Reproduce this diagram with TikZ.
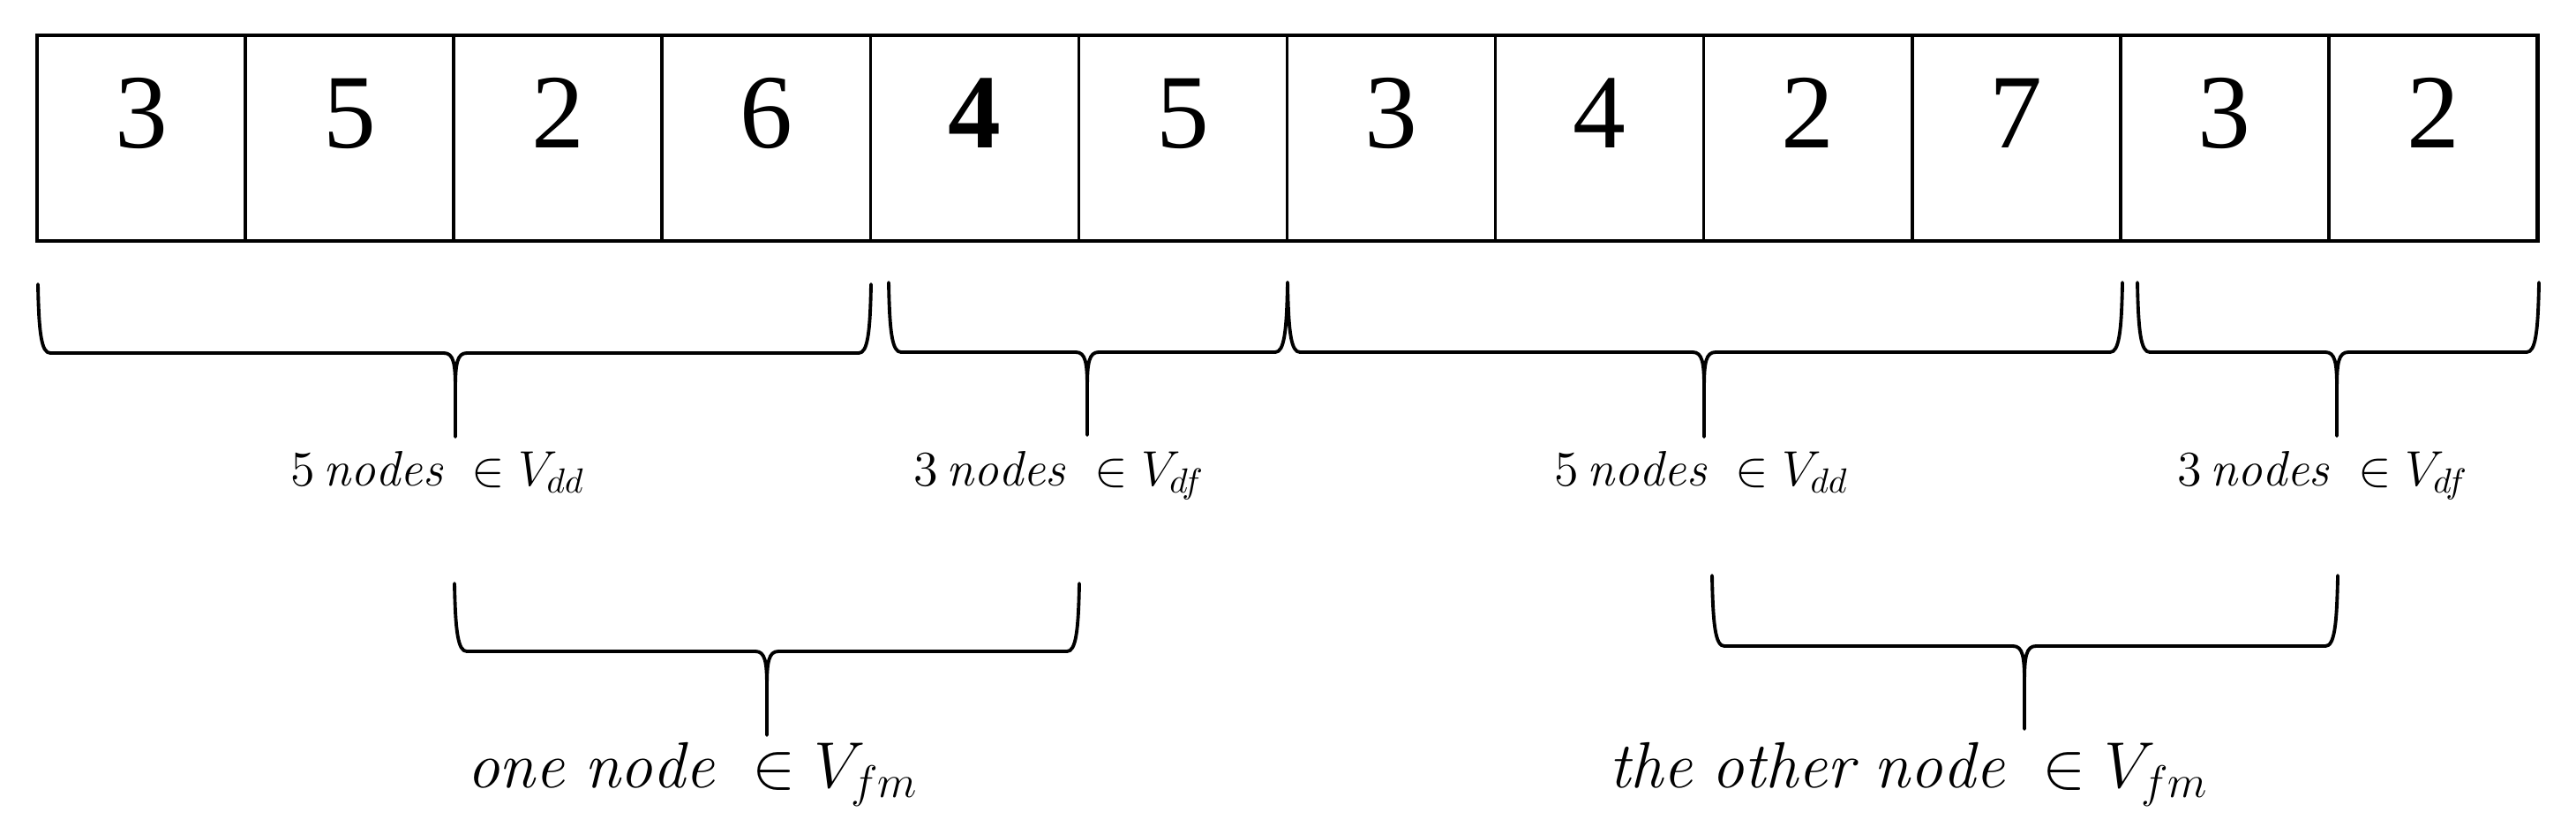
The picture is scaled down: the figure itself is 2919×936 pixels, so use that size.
\RequirePackage{fix-cm}
\documentclass[tikz,border=0pt]{standalone}
\usepackage{fontspec}
\newfontfamily\numfont{Liberation Serif}
\tikzset{
  cellline/.style={line width=1pt},
  outerline/.style={line width=1.4pt},
  bracestyle/.style={line width=1.1pt, line cap=round, line join=round},
  digit/.style={anchor=base, inner sep=0pt, font=\numfont\fontsize{34}{40}\selectfont},
  labone/.style={anchor=base, inner sep=0pt, font=\fontsize{16}{19}\selectfont},
  labtwo/.style={anchor=base, inner sep=0pt, font=\fontsize{21}{25}\selectfont},
}
% xl, xr, xm, top, bar, bottom
\newcommand\mybrace[6]{%
  \draw[bracestyle] (#1,#4) .. controls (#1+1,#5-22) and (#1+4,#5) .. (#1+14,#5) -- (#3-13,#5)
     .. controls (#3-2,#5) and (#3,#5+12) .. (#3,#5+40) -- (#3,#6)
     (#3,#5+40) .. controls (#3,#5+12) and (#3+2,#5) .. (#3+13,#5) -- (#2-14,#5)
     .. controls (#2-4,#5) and (#2-1,#5-22) .. (#2,#4);
}
\begin{document}
\begin{tikzpicture}[x=0.01cm,y=-0.01cm]
\useasboundingbox (0,0) rectangle (2919,936);
% grid
\foreach \i in {1,...,11} \draw[cellline] ({42+\i*236.08},40) -- ({42+\i*236.08},273);
\draw[outerline] (42,40) rectangle (2875,273);
% digits
\node[digit] (d0)  at ({42+0.5*236.08},167) {3};
\node[digit] (d1)  at ({42+1.5*236.08},167) {5};
\node[digit] (d2)  at ({42+2.5*236.08},167) {2};
\node[digit] (d3)  at ({42+3.5*236.08},167) {6};
\node[digit] (d4)  at ({42+4.5*236.08},167) {\bfseries 4};
\node[digit] (d5)  at ({42+5.5*236.08},167) {5};
\node[digit] (d6)  at ({42+6.5*236.08},167) {3};
\node[digit] (d7)  at ({42+7.5*236.08},167) {4};
\node[digit] (d8)  at ({42+8.5*236.08},167) {2};
\node[digit] (d9)  at ({42+9.5*236.08},167) {7};
\node[digit] (d10) at ({42+10.5*236.08},167) {3};
\node[digit] (d11) at ({42+11.5*236.08},167) {2};
% first row of braces
\mybrace{43}{987}{516}{322}{400}{495}
\mybrace{1007}{1459}{1232}{320}{399}{493}
\mybrace{1459}{2405}{1931}{320}{399}{495}
\mybrace{2422}{2877}{2648}{320}{399}{494}
% second row of braces
\mybrace{515}{1223}{869}{661}{738}{833}
\mybrace{1940}{2649}{2294}{652}{732}{826}
% labels
\node[labone] (l1) at (496,550)  {$5\,\mathit{nodes}\ \in V_{dd}$};
\node[labone] (l2) at (1200,550) {$3\,\mathit{nodes}\ \in V_{df}$};
\node[labone] (l3) at (1928,550) {$5\,\mathit{nodes}\ \in V_{dd}$};
\node[labone] (l4) at (2632,550) {$3\,\mathit{nodes}\ \in V_{df}$};
\node[labtwo] (l5) at (785,892)  {$\mathit{one\ node}\ \in V_{fm}$};
\node[labtwo] (l6) at (2163,892) {$\mathit{the\ other\ node}\ \in V_{fm}$};
\end{tikzpicture}
\end{document}
